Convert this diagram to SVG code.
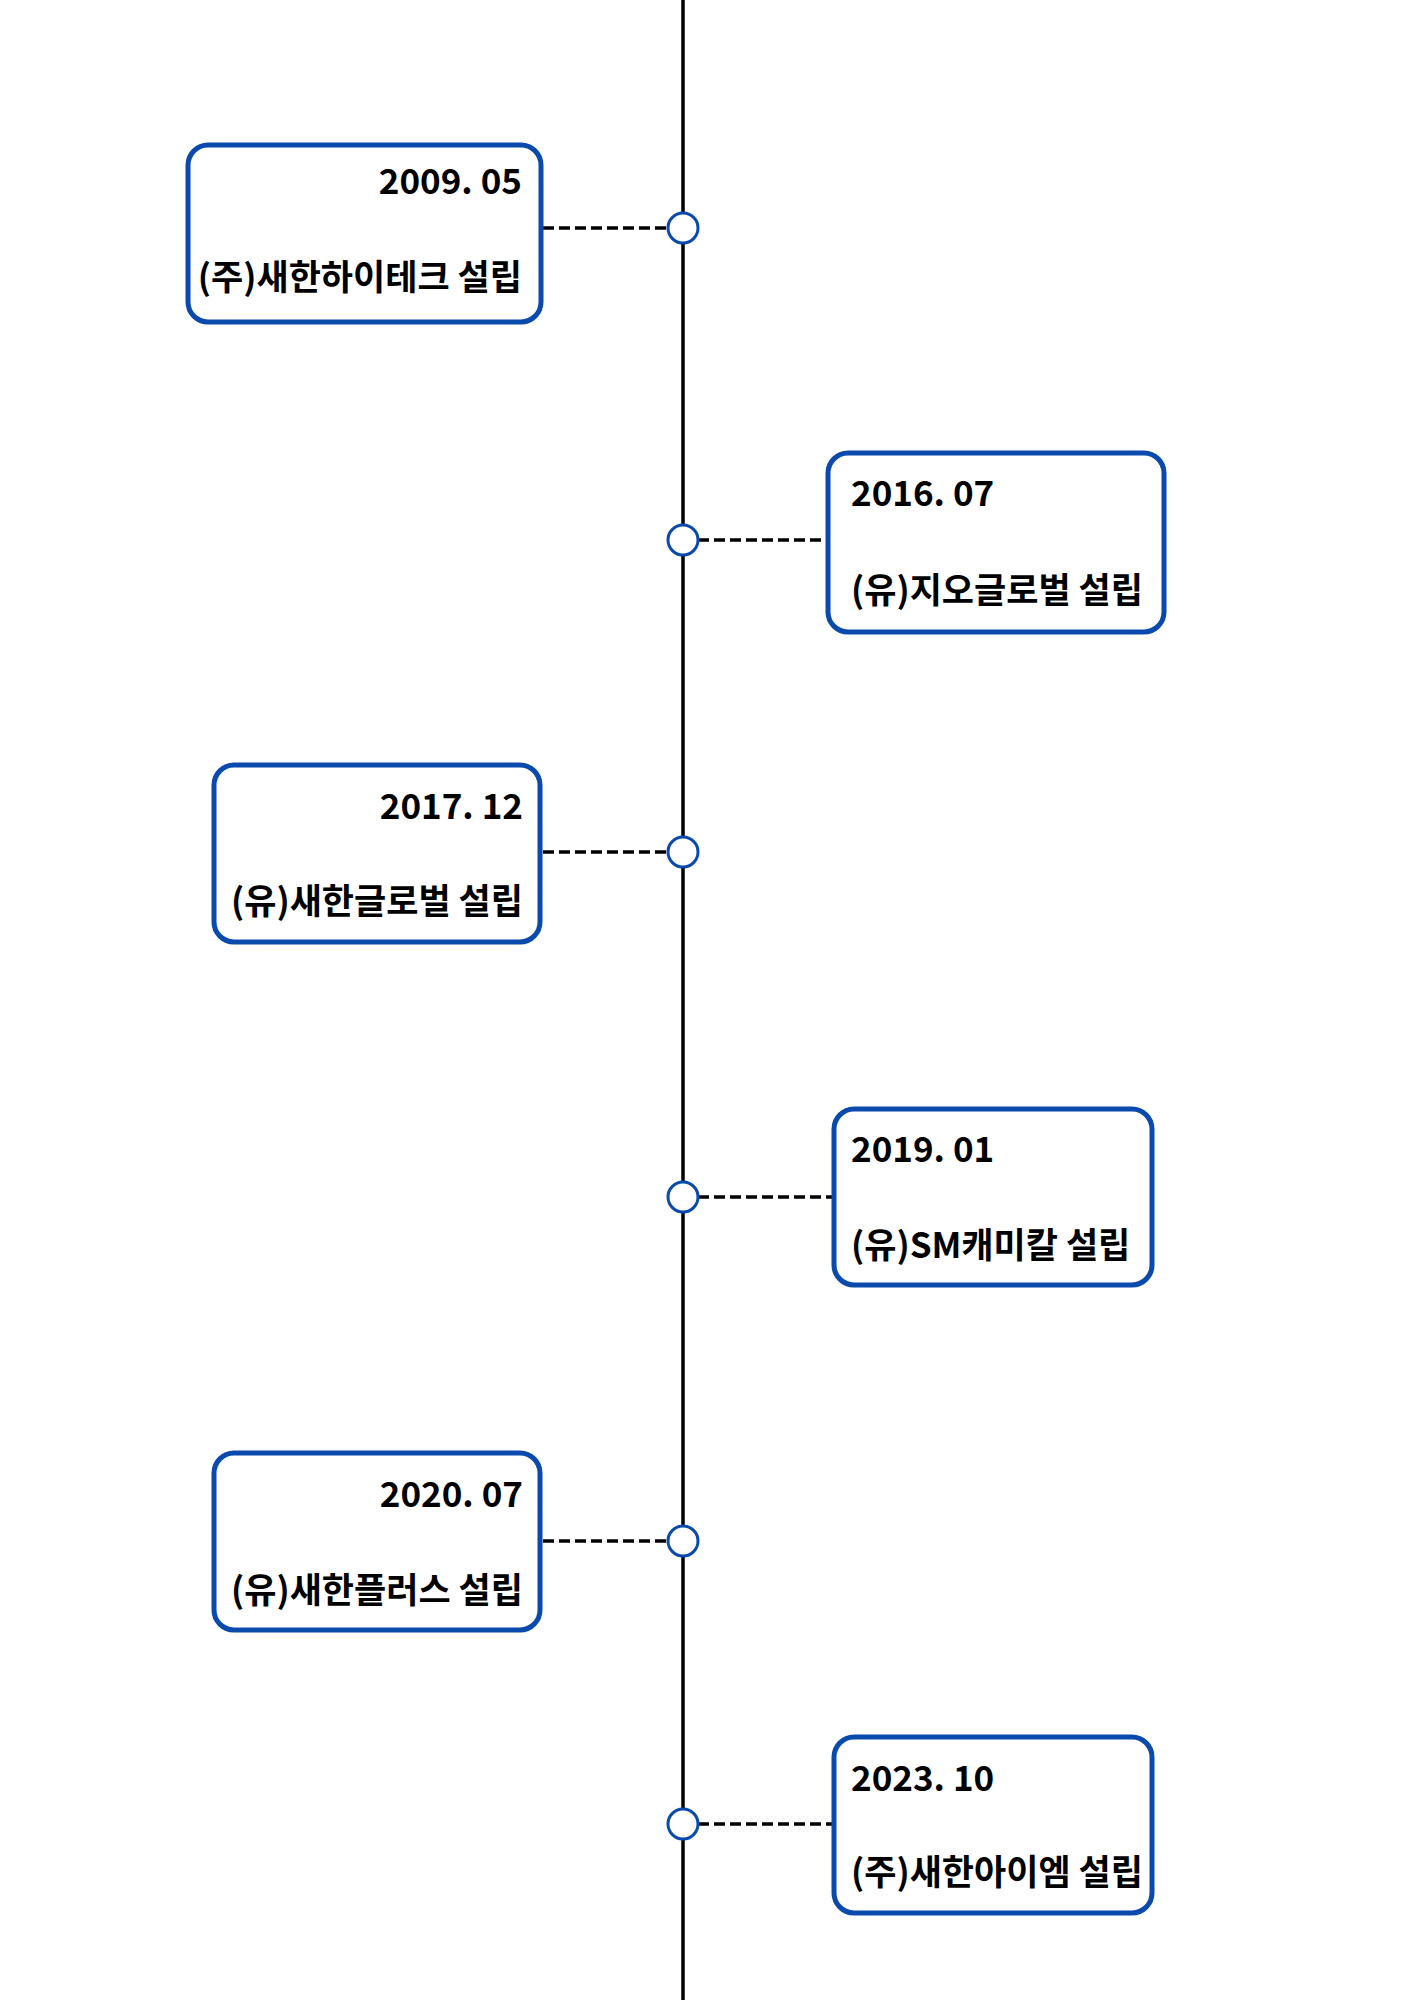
<svg xmlns="http://www.w3.org/2000/svg" width="1414" height="2000" viewBox="0 0 1414 2000">
<style>
.box{fill:#fff;stroke:#0a4aad;stroke-width:5}
.dot{fill:#fff;stroke:#0a4aad;stroke-width:3}
.dash{stroke:#000;stroke-width:3.5;stroke-dasharray:11 5;fill:none}
.axis{stroke:#000;stroke-width:3.5}
text{font-family:"Noto Sans CJK KR","Noto Sans",sans-serif;font-weight:bold;font-size:35px;fill:#000}
.r{text-anchor:end}
</style>
<rect width="1414" height="2000" fill="#fff"/>
<g id="connectors">
<line class="axis" x1="683" y1="0" x2="683" y2="2000"/>
<line class="dash" x1="543" y1="228" x2="668" y2="228"/>
<line class="dash" x1="698" y1="540" x2="826" y2="540"/>
<line class="dash" x1="543" y1="852" x2="668" y2="852"/>
<line class="dash" x1="698" y1="1197" x2="832" y2="1197"/>
<line class="dash" x1="543" y1="1541" x2="668" y2="1541"/>
<line class="dash" x1="698" y1="1824" x2="832" y2="1824"/>
<circle class="dot" cx="683" cy="228" r="15"/>
<circle class="dot" cx="683" cy="540" r="15"/>
<circle class="dot" cx="683" cy="852" r="15"/>
<circle class="dot" cx="683" cy="1197" r="15"/>
<circle class="dot" cx="683" cy="1541" r="15"/>
<circle class="dot" cx="683" cy="1824" r="15"/>
</g>
<g id="n1">
<rect class="box" x="188" y="145" width="353" height="177" rx="20"/>
<text class="r" x="522" y="194">2009. 05</text>
<text class="r" x="522" y="290">(주)새한하이테크 설립</text>
</g>
<g id="n2">
<rect class="box" x="828" y="453" width="336" height="179" rx="20"/>
<text x="851" y="506">2016. 07</text>
<text x="851" y="603">(유)지오글로벌 설립</text>
</g>
<g id="n3">
<rect class="box" x="214" y="765" width="326" height="177" rx="20"/>
<text class="r" x="523" y="819">2017. 12</text>
<text class="r" x="523" y="914">(유)새한글로벌 설립</text>
</g>
<g id="n4">
<rect class="box" x="834" y="1109" width="318" height="176" rx="20"/>
<text x="851" y="1162">2019. 01</text>
<text x="851" y="1258">(유)SM캐미칼 설립</text>
</g>
<g id="n5">
<rect class="box" x="214" y="1453" width="326" height="177" rx="20"/>
<text class="r" x="523" y="1507">2020. 07</text>
<text class="r" x="523" y="1603">(유)새한플러스 설립</text>
</g>
<g id="n6">
<rect class="box" x="834" y="1737" width="318" height="176" rx="20"/>
<text x="851" y="1791">2023. 10</text>
<text x="851" y="1885">(주)새한아이엠 설립</text>
</g>
</svg>
